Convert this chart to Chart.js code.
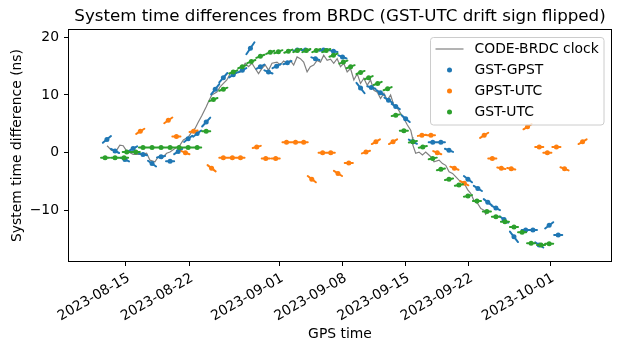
<!DOCTYPE html>
<html>
<head>
<meta charset="utf-8">
<script src="https://cdn.jsdelivr.net/npm/chart.js@4.4.1/dist/chart.umd.min.js"></script>
<style>
  body { margin: 0; background: #fff; }
  #wrap { width: 621px; height: 353px; }
</style>
</head>
<body>
<div id="wrap"><canvas id="myChart" width="621" height="353"></canvas></div>
<script>
// x values are days counted from 2023-08-01 00:00 GPS time, y values in ns
const xTickLabels = ['2023-08-15', '2023-08-22', '2023-09-01', '2023-09-08', '2023-09-15', '2023-09-22', '2023-10-01']
const yTickValues = [-10, 0, 10, 20]

const clockDays = [11.92, 12.41, 12.97, 13.33, 13.7, 14.08, 14.81, 15.74, 16.3, 16.67, 17.22, 17.59, 17.97, 18.52, 18.89, 19.44, 20.0, 20.37, 20.92, 21.3, 21.67, 22.03, 22.41, 22.89, 23.14, 23.52, 24.08, 24.44, 24.81, 25.19, 25.56, 26.11, 26.67, 27.22, 27.59, 27.97, 28.33, 28.7, 29.08, 29.44, 29.81, 30.19, 30.74, 31.11, 31.48, 31.86, 32.22, 32.59, 32.97, 33.33, 33.7, 34.08, 34.44, 34.81, 35.19, 35.56, 35.92, 36.3, 36.67, 37.03, 37.41, 37.78, 38.14, 38.52, 38.89, 39.26, 39.63, 40.0, 40.37, 40.74, 41.11, 41.48, 41.86, 42.22, 42.59, 42.97, 43.33, 43.7, 44.08, 44.44, 44.81, 45.19, 45.56, 45.74, 45.8, 46.11, 46.48, 46.86, 47.22, 47.78, 48.14, 48.7, 49.08, 49.44, 49.81, 50.19, 50.56, 51.11, 51.48, 51.86, 52.22, 52.59, 52.97, 53.33, 53.7, 53.89]
const clockValues = [1.2, 0.4, 0.4, 1.3, 1.2, 0.3, -0.3, -0.3, -0.1, -1.3, -1.6, -0.7, -1.0, -0.1, 0.1, 0.7, 1.3, 2.2, 2.7, 3.6, 4.2, 5.3, 6.4, 7.9, 8.8, 10.0, 10.5, 11.4, 12.0, 12.6, 13.7, 13.8, 14.0, 15.5, 14.9, 15.5, 14.6, 13.7, 14.6, 15.2, 14.3, 15.5, 15.7, 15.2, 15.9, 15.5, 16.0, 15.2, 16.6, 16.3, 15.7, 14.0, 14.9, 15.2, 16.0, 15.7, 16.9, 16.0, 16.2, 15.5, 16.3, 14.9, 15.5, 14.0, 14.6, 12.6, 13.7, 12.0, 12.9, 11.7, 12.6, 10.8, 10.5, 9.4, 10.3, 9.1, 10.0, 8.2, 7.7, 6.8, 5.9, 4.8, 3.9, 2.7, 1.3, -0.1, 0.1, -0.4, 0.1, -0.7, -1.6, -1.3, -1.9, -2.2, -3.3, -3.6, -4.2, -5.1, -5.3, -6.4, -7.1, -8.4, -8.8, -9.7, -10.0, -10.8]

// one daily solution per entry: epoch (day), value at that epoch, drift (ns/day)
const gstGpstDays = [11.9, 12.8, 13.9, 14.8, 15.9, 16.9, 17.9, 18.9, 19.8, 20.9, 21.9, 22.9, 23.9, 24.8, 25.9, 26.9, 27.8, 28.9, 29.8, 30.7, 31.9, 33.0, 33.9, 35.0, 35.9, 37.0, 38.0, 40.0, 41.2, 42.2, 43.1, 43.9, 45.0, 45.8, 48.0, 48.9, 49.8, 51.9, 53.0, 54.1, 55.0, 55.9, 57.0, 58.3, 59.1, 59.8, 60.9, 61.9]
const gstGpstValues = [2.3, 0.3, -1.2, 0.7, -0.3, -1.9, -0.7, -1.5, 0.2, 2.4, 3.3, 5.3, 11.0, 13.0, 13.5, 14.3, 18.1, 14.9, 14.0, 15.0, 15.6, 17.8, 17.8, 16.3, 17.8, 17.6, 16.6, 11.2, 11.3, 10.4, 9.1, 8.0, 5.9, 1.9, 1.8, 1.8, 0.4, -4.6, -6.2, -8.6, -9.6, -11.6, -14.6, -13.4, -13.4, -16.0, -12.6, -14.3]
const gstGpstDrift = [1.3, -0.8, -0.7, 0.9, -0.3, -1.1, 0.3, 0, 1.0, 1.2, 1.2, 1.7, 2.0, 1.8, 1.0, 0.8, 2.3, 0.8, -0.6, 0.8, 0.6, 0.3, 0, -0.5, 0.3, -0.3, -0.6, -2.0, -0.5, -1.0, -1.0, -1.0, -1.3, -0.8, 0, 0, -0.6, -1.2, -1.0, -1.2, -0.8, -1.2, -2.0, 0, 0, -1.0, 1.2, 0]

const gpstUtcDays = [15.6, 18.7, 19.6, 20.6, 21.5, 23.5, 24.8, 25.8, 26.7, 28.5, 29.5, 30.6, 31.8, 32.8, 33.7, 34.6, 35.8, 36.7, 37.5, 38.7, 40.6, 41.7, 43.6, 46.8, 47.8, 48.5, 50.4, 51.5, 53.7, 54.6, 55.6, 56.7, 58.5, 59.8, 60.7, 61.7, 62.6, 64.6]
const gpstUtcValues = [3.7, 5.6, 2.8, 0.0, 3.7, -2.7, -0.9, -0.9, -0.9, 1.0, -1.0, -1.0, 1.8, 1.8, 1.8, -4.6, 0.0, 0.0, -3.6, -1.8, 0.1, 1.9, 1.9, 3.0, 3.0, 0.0, -2.7, -5.3, 3.0, -1.0, -2.7, -2.8, 4.5, 1.0, 0.0, 1.0, -2.8, 1.9]
const gpstUtcDrift = [1.0, 1.1, 0, -0.6, 0.3, -1.2, 0, 0, 0, 0.4, 0, 0, 0, 0, 0, -1.2, 0, 0, -1.0, 0, 0.5, 0.9, 0.9, 0.2, 0, -0.6, -0.6, -0.8, 1.0, 0, -0.3, -0.3, 1.0, 0, 0, 0, -0.6, 0.9]

const gstUtcDays = [11.7, 12.8, 13.8, 14.1, 15.1, 15.9, 16.9, 17.9, 18.9, 19.9, 20.9, 21.9, 22.9, 23.7, 24.8, 25.9, 26.9, 27.9, 28.9, 30.0, 30.9, 32.0, 33.0, 34.0, 35.1, 36.2, 37.0, 38.1, 38.9, 40.0, 40.9, 41.9, 43.0, 43.9, 44.8, 45.8, 46.9, 48.0, 48.9, 49.8, 50.9, 51.9, 52.9, 54.0, 55.0, 56.0, 57.0, 57.9, 58.9, 60.0, 60.9]
const gstUtcValues = [-0.9, -0.9, -0.9, 0.1, 0.1, 0.9, 0.9, 0.9, 0.9, 0.9, 0.9, 0.9, 3.7, 9.2, 11.0, 14.0, 14.9, 15.8, 16.7, 17.4, 17.5, 17.6, 17.7, 17.7, 17.7, 17.7, 16.9, 15.7, 14.9, 13.9, 13.0, 12.0, 11.1, 6.5, 3.8, 1.9, 1.0, -1.0, -2.9, -4.6, -5.6, -7.5, -8.4, -10.2, -11.1, -12.0, -12.9, -13.8, -15.7, -16.0, -15.8]
const gstUtcDrift = [0, 0, 0, 0, 0, 0, 0, 0, 0, 0, 0, 0, 0, 0.6, 0.6, 0.6, 0.6, 0.6, 0.6, 0.6, 0.6, 0.6, 0.6, 0.6, 0.6, 0.6, 0.6, 0.6, 0.6, 0.6, 0.6, 0.6, 0.6, 0.3, 0, 0.3, 0.3, 0.3, 0.3, 0.3, 0.3, 0.3, 0, 0, 0, 0, 0, 0, 0, 0, 0]

const blue = '#1f77b4'
const orange = '#ff7f0e'
const green = '#2ca02c'
const font = 'DejaVu Sans'
const dayMs = 86400000
const day0 = Date.UTC(2023, 7, 1)
const halfSpan = 0.45

// short line per daily solution, broken by a null point
const driftLines = (days, values, drift) => {
  const pts = []
  days.forEach((d, i) => {
    pts.push({ x: d - halfSpan, y: values[i] - drift[i] * halfSpan })
    pts.push({ x: d + halfSpan, y: values[i] + drift[i] * halfSpan })
    pts.push({ x: d, y: null })
  })
  return pts
}
const dots = (days, values) => days.map((d, i) => ({ x: d, y: values[i] }))

const dotSet = (label, days, values, color, order) => ({
  label: label,
  data: dots(days, values),
  showLine: false,
  pointRadius: 2.5,
  pointBackgroundColor: color,
  pointBorderWidth: 0,
  order: order,
})
const lineSet = (days, values, drift, color, order) => ({
  label: '',
  data: driftLines(days, values, drift),
  borderColor: color,
  borderWidth: 2,
  borderCapStyle: 'round',
  pointRadius: 0,
  spanGaps: false,
  order: order,
})

const data = {
  datasets: [
    {
      label: 'CODE-BRDC clock',
      data: dots(clockDays, clockValues),
      borderColor: 'gray',
      borderWidth: 1.2,
      pointRadius: 0,
      order: 10,
    },
    dotSet('GST-GPST', gstGpstDays, gstGpstValues, blue, 6),
    dotSet('GPST-UTC', gpstUtcDays, gpstUtcValues, orange, 4),
    dotSet('GST-UTC', gstUtcDays, gstUtcValues, green, 2),
    lineSet(gstGpstDays, gstGpstValues, gstGpstDrift, blue, 7),
    lineSet(gpstUtcDays, gpstUtcValues, gpstUtcDrift, orange, 5),
    lineSet(gstUtcDays, gstUtcValues, gstUtcDrift, green, 3),
  ],
}

const decor = {
  id: 'decor',
  afterDraw(chart) {
    const { ctx, chartArea: a } = chart
    ctx.save()
    // axes frame
    ctx.strokeStyle = '#000'
    ctx.lineWidth = 1
    ctx.strokeRect(a.left - 0.5, a.top - 0.5, a.right - a.left + 1, a.bottom - a.top + 1)
    // title
    ctx.fillStyle = '#000'
    ctx.font = '16.7px "' + font + '"'
    ctx.textAlign = 'center'
    ctx.textBaseline = 'middle'
    ctx.fillText('System time differences from BRDC (GST-UTC drift sign flipped)', (a.left + a.right) / 2, 17)
    // legend box
    const bx = a.right - 180.5, by = a.top + 7.5, bw = 173.5, bh = 87.5
    ctx.beginPath()
    ctx.roundRect(bx, by, bw, bh, 3)
    ctx.fillStyle = 'rgba(255,255,255,0.8)'
    ctx.fill()
    ctx.strokeStyle = '#cccccc'
    ctx.stroke()
    ctx.font = '13.9px "' + font + '"'
    ctx.textAlign = 'left'
    const ds = chart.data.datasets
    for (let i = 0; i < 4; i++) {
      const y = by + 11.5 + i * 21
      if (i === 0) {
        ctx.strokeStyle = 'gray'
        ctx.lineWidth = 1.2
        ctx.beginPath()
        ctx.moveTo(bx + 5, y)
        ctx.lineTo(bx + 33, y)
        ctx.stroke()
      } else {
        ctx.fillStyle = ds[i].pointBackgroundColor
        ctx.beginPath()
        ctx.arc(bx + 19, y, 2.5, 0, Math.PI * 2)
        ctx.fill()
      }
      ctx.fillStyle = '#000'
      ctx.fillText(ds[i].label, bx + 44, y)
    }
    ctx.restore()
  },
}

const config = {
  type: 'line',
  data: data,
  options: {
    responsive: false,
    animation: false,
    devicePixelRatio: 1,
    layout: { padding: { top: 30, right: 10, left: 0, bottom: 0 } },
    plugins: {
      legend: { display: false },
      tooltip: { enabled: false },
    },
    scales: {
      x: {
        type: 'linear',
        min: 7.7,
        max: 67.75,
        afterFit: (scale) => { scale.height = 92 },
        afterBuildTicks: (scale) => {
          scale.ticks = xTickLabels.map((l) => ({ value: (Date.parse(l) - day0) / dayMs }))
        },
        grid: { drawOnChartArea: false, tickLength: 5, color: '#000', tickWidth: 1 },
        border: { display: false },
        ticks: {
          autoSkip: false,
          minRotation: 30,
          maxRotation: 30,
          padding: 4,
          labelOffset: 3,
          color: '#000',
          font: { family: font, size: 13.9 },
          callback: (v) => new Date(day0 + v * dayMs).toISOString().slice(0, 10),
        },
        title: {
          display: true,
          text: 'GPS time',
          color: '#000',
          font: { family: font, size: 13.9 },
          padding: { top: 0, bottom: 10.7 },
        },
      },
      y: {
        min: -18.79,
        max: 21.27,
        afterFit: (scale) => { scale.width = 69 },
        afterBuildTicks: (scale) => {
          scale.ticks = yTickValues.map((v) => ({ value: v }))
        },
        grid: { drawOnChartArea: false, tickLength: 5, color: '#000', tickWidth: 1 },
        border: { display: false },
        ticks: {
          padding: 5,
          color: '#000',
          font: { family: font, size: 13.9 },
          callback: (v) => (v < 0 ? '\u2212' + Math.abs(v) : String(v)),
        },
        title: {
          display: true,
          text: 'System time difference (ns)',
          color: '#000',
          font: { family: font, size: 13.9 },
          padding: { top: 8.7, bottom: 0 },
        },
      },
    },
  },
  plugins: [decor],
}

const myChart = new Chart(document.getElementById('myChart'), config)
</script>
</body>
</html>
